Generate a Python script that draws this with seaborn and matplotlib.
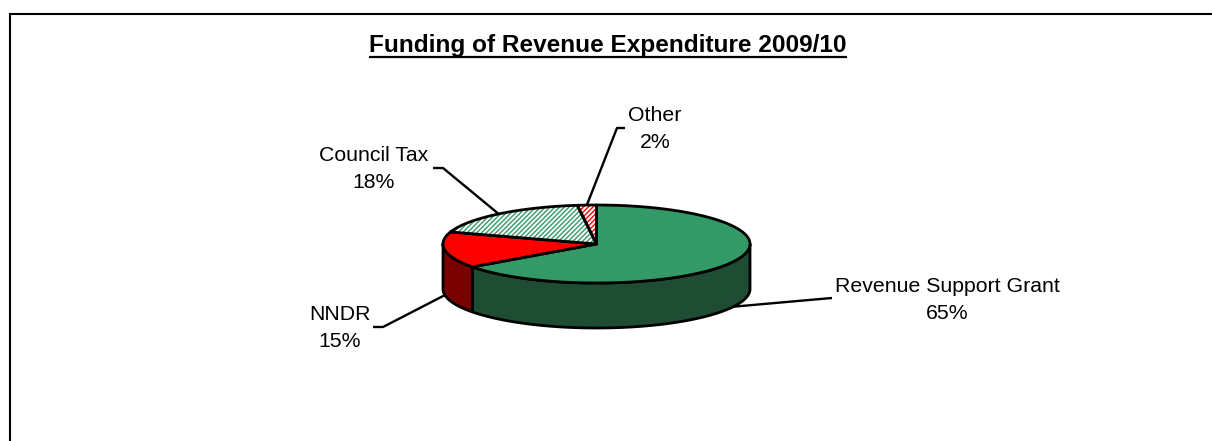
import numpy as np
import matplotlib
matplotlib.use("Agg")
import matplotlib.pyplot as plt
from matplotlib.patches import Polygon
import seaborn as sns

# Funding sources, listed clockwise from 12 o'clock
categories = ["Revenue Support Grant", "NNDR", "Council Tax", "Other"]
shares = [65, 15, 18, 2]
top_colors = ["#339966", "#FF0000", "#339966", "#FF0000"]
side_colors = ["#1E4D33", "#7A0000", "#1E4D33", "#7A0000"]
hatched = [False, False, True, True]
title = "Funding of Revenue Expenditure 2009/10"

sns.set_theme(style="white")
plt.rcParams["font.family"] = ["Liberation Sans", "DejaVu Sans"]
plt.rcParams["hatch.linewidth"] = 1.0

fig = plt.figure(figsize=(12.12, 4.41), dpi=100)
ax = fig.add_axes([0, 0, 1, 1])
ax.set_xlim(0, 1212)
ax.set_ylim(441, 0)
ax.axis("off")

# outer frame (top and left edges)
ax.plot([10, 10, 1212], [441, 13.5, 13.5], color="black", lw=1.5,
        solid_joinstyle="miter", solid_capstyle="butt")

# 3-D pie geometry
cx, cy, rx, ry, depth = 596.5, 244, 153.5, 39, 45
EDGE = dict(edgecolor="black", lw=2.0, joinstyle="round")


def ellipse_pts(a_from, a_to, dy=0.0, n=120):
    t = np.radians(np.linspace(a_from, a_to, n))
    return np.column_stack([cx + rx * np.cos(t), cy - ry * np.sin(t) + dy])


frac = np.array(shares, dtype=float) / sum(shares)
ends = 90 - 360 * np.cumsum(frac)
starts = np.r_[90, ends[:-1]]
mids = (starts + ends) / 2

# side walls: only the front half (sin < 0) is visible
for s, e, col in zip(starts, ends, side_colors):
    for k in (-2, -1, 0, 1):
        lo = max(e, -180 + 360 * k)
        hi = min(s, 0 + 360 * k)
        if hi - lo > 1e-6:
            top = ellipse_pts(lo, hi)
            bot = ellipse_pts(hi, lo, dy=depth)
            ax.add_patch(Polygon(np.vstack([top, bot]), closed=True,
                                 facecolor=col, zorder=2, **EDGE))

# top surface wedges
for s, e, col, h in zip(starts, ends, top_colors, hatched):
    pts = np.vstack([[cx, cy], ellipse_pts(s, e)])
    if h:
        ax.add_patch(Polygon(pts, closed=True, facecolor="white",
                             edgecolor=col, hatch="///////", lw=0, zorder=3))
        ax.add_patch(Polygon(pts, closed=True, fill=False, zorder=4, **EDGE))
    else:
        ax.add_patch(Polygon(pts, closed=True, facecolor=col, zorder=3, **EDGE))

# data labels with elbow leader lines
label_layout = {
    "Revenue Support Grant": dict(x=947, y=292, elbow=[(832, 298), (826, 298.5)]),
    "NNDR": dict(x=340, y=320, elbow=[(373, 327), (383, 327)]),
    "Council Tax": dict(x=374, y=161, elbow=[(433, 168), (443, 168)]),
    "Other": dict(x=655, y=121, elbow=[(625, 128), (617, 128)]),
}
line_gap = 27
label_size = 15.3

for cat, val, m in zip(categories, shares, mids):
    lay = label_layout[cat]
    anchor = ellipse_pts(m, m, dy=depth if np.sin(np.radians(m)) < 0 else 0, n=1)[0]
    xs = [p[0] for p in lay["elbow"]] + [anchor[0]]
    ys = [p[1] for p in lay["elbow"]] + [anchor[1]]
    ax.plot(xs, ys, color="black", lw=1.7, zorder=5, solid_capstyle="butt")
    ax.text(lay["x"], lay["y"], cat, ha="center", va="baseline",
            fontsize=label_size, color="black")
    ax.text(lay["x"], lay["y"] + line_gap, f"{val}%", ha="center", va="baseline",
            fontsize=label_size, color="black")

# underlined bold title
t = ax.text(608, 52, title, ha="center", va="baseline", fontsize=17.6,
            fontweight="bold", color="black")
fig.canvas.draw()
bb = t.get_window_extent().transformed(ax.transData.inverted())
ax.plot([bb.x0, bb.x1], [57, 57], color="black", lw=1.6, solid_capstyle="butt")

fig.savefig("out.png", dpi=100, facecolor="white")
